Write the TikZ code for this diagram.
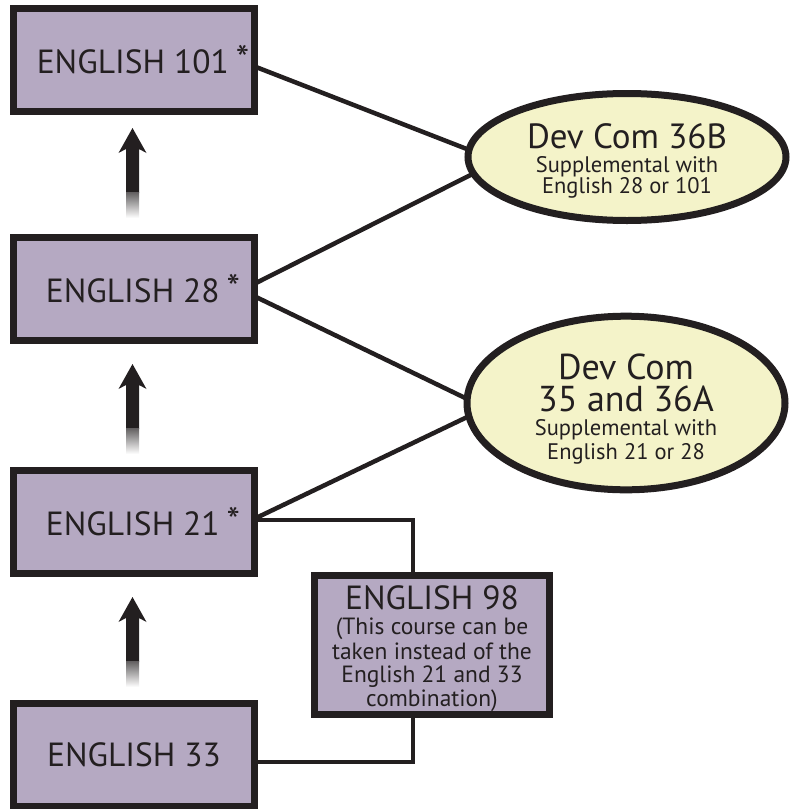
\documentclass[tikz,border=0pt]{standalone}
\usepackage{fontspec}
\setmainfont{PT Sans}
\usetikzlibrary{shapes.geometric,calc,backgrounds}
\definecolor{ink}{HTML}{231F20}
\definecolor{boxfill}{HTML}{B5A9C2}
\definecolor{ovalfill}{HTML}{F4F3C9}
\tikzset{
  course/.style={draw=ink,fill=boxfill,line width=7pt,minimum width=241pt,minimum height=103pt,
    inner sep=0pt,text=ink,font=\fontsize{33.5}{36}\selectfont},
  oval/.style={ellipse,draw=ink,fill=ovalfill,line width=7pt,minimum width=318pt,minimum height=127pt,
    inner sep=0pt,text=ink,align=center},
  link/.style={draw=ink,line width=4.5pt},
  elbow/.style={draw=ink,line width=4.5pt,line join=miter},
  uparrow/.pic={
    \fill[ink] (0,0) -- (14,25) -- (6.5,21) -- (6.5,65) -- (-6.5,65) -- (-6.5,21) -- (-14,25) -- cycle;
    \shade[top color=ink!70,bottom color=white] (-6.5,64.5) rectangle (6.5,90);
  }
}
\newcommand{\starmark}{\hspace{7pt}\raisebox{1pt}{\fontsize{38}{38}\selectfont *}}
\newcommand{\lpad}{\hspace*{18pt}}
\newcommand{\bigline}{\fontsize{35}{35}\selectfont}
\newcommand{\biggerline}{\fontsize{36}{36}\selectfont}
\begin{document}
\begin{tikzpicture}[x=1pt,y=-1pt]
\useasboundingbox (0,0) rectangle (793,809);
\node[course] (b101) at (134,60) {\lpad ENGLISH 101\starmark};
\node[course] (b28) at (134,289) {\lpad ENGLISH 28\starmark};
\node[course] (b21) at (134,522) {\lpad ENGLISH 21\starmark};
\node[course] (b33) at (134,755) {ENGLISH 33};
\node[course,minimum width=235pt,minimum height=139pt,align=center,
      font={\fontsize{23.5}{24}\selectfont\lineskiplimit=-100pt}] (b98) at (432,645)
  {{\fontsize{33.5}{34}\selectfont\rule{0pt}{32pt}ENGLISH 98}\\[1pt](This course can be\\[1pt]taken instead of the\\[-1pt]English 21 and 33\\combination)};
\node[oval,font={\fontsize{22.5}{21.5}\selectfont\lineskiplimit=-100pt}] (e1) at (627,157)
  {{\bigline\rule{0pt}{33pt}Dev Com 36B}\\[2.5pt]Supplemental with\\English 28 or 101};
\node[oval,font={\fontsize{22.5}{24}\selectfont\lineskiplimit=-100pt}] (e2) at (626,403)
  {{\biggerline\rule{0pt}{38pt}Dev Com}\\[8pt]{\biggerline 35 and 36A}\\Supplemental with\\English 21 or 28};
\begin{scope}[on background layer]
  \draw[link] ($(b101.east)+(-2,7)$) -- ($(e1.west)+(10,-5)$);
  \draw[link] ($(b28.east)+(-2,-6)$) -- ($(e1.west)+(10,16)$);
  \draw[link] ($(b28.east)+(-2,8)$) -- ($(e2.west)+(10,-1)$);
  \draw[link] ($(b21.east)+(-2,-4)$) -- ($(e2.west)+(10,11)$);
  \draw[elbow] ($(b21.east)+(-2,-2)$) -| ($(b98.north)+(-19,2)$);
  \draw[elbow] ($(b98.south)+(-19,-2)$) |- ($(b33.east)+(-2,7)$);
\end{scope}
\pic at ($(b101.south)+(-1.5,13)$) {uparrow};
\pic at ($(b28.south)+(-1.5,20)$) {uparrow};
\pic at ($(b21.south)+(-1.5,20)$) {uparrow};
\end{tikzpicture}
\end{document}
